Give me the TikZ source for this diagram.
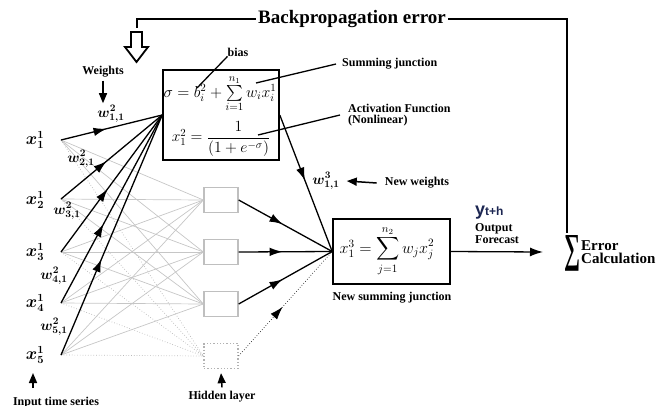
\documentclass[tikz,border=0pt]{standalone}
\usepackage{amsmath,bm}
\usepackage{graphicx}
\usepackage{fontspec}
\setmainfont{Liberation Serif}
\newfontfamily\ysans{Liberation Sans}
\usetikzlibrary{arrows.meta,decorations.markings}
\definecolor{navy}{RGB}{28,38,82}
\tikzset{
  lbl/.style={font=\fontsize{12}{12}\selectfont\bfseries, inner sep=0pt},
  wl/.style={font=\fontsize{14}{14}\selectfont, inner sep=0pt},
  xl/.style={font=\fontsize{16}{16}\selectfont, inner sep=0pt},
  gline/.style={gray!45, line width=0.7pt},
  gdot/.style={gray!55, line width=0.7pt, dotted},
  conn/.style={line width=1.3pt, postaction={decorate},
    decoration={markings, mark=at position #1 with {\arrow[black]{Latex[length=13pt,width=8.5pt]}}}},
  conn/.default=0.45,
  hbox/.style={draw=gray!50, line width=1.3pt, minimum width=34pt, minimum height=25pt, inner sep=0pt},
  bigbox/.style={draw, line width=1.6pt, inner sep=0pt},
  plainline/.style={line width=1.3pt},
  uparrow/.style={line width=1.5pt, -{Triangle[length=10pt,width=8pt]}},
}
\begin{document}
\begin{tikzpicture}[x=1pt,y=-1pt]
\useasboundingbox (0,0) rectangle (664,405);
\clip (0,0) rectangle (664,405);

% input labels and points
\node[xl] (x1) at (35,140) {$\bm{x_1^1}$};
\node[xl] (x2) at (35,200) {$\bm{x_2^1}$};
\node[xl] (x3) at (35,252) {$\bm{x_3^1}$};
\node[xl] (x4) at (35,303) {$\bm{x_4^1}$};
\node[xl] (x5) at (35,355) {$\bm{x_5^1}$};
\coordinate (in1) at (61,140);
\coordinate (in2) at (61,199);
\coordinate (in3) at (61,252);
\coordinate (in4) at (61,303);
\coordinate (in5) at (61,355);

% hidden boxes
\node[bigbox, minimum width=116pt, minimum height=90pt] (box1) at (221,115) {};
\node[hbox] (h1) at (221,200) {};
\node[hbox] (h2) at (221,252) {};
\node[hbox] (h3) at (221,304) {};
\node[hbox, draw=gray!60, dotted] (h4) at (221,356) {};

% output box
\node[bigbox, minimum width=117pt, minimum height=65pt] (out) at (391.5,251.5) {};

% gray connections
\foreach \i in {1,...,5}{
  \foreach \j in {1,2,3}{ \draw[gline] (in\i) -- (h\j.west); }
  \draw[gdot] (in\i) -- (h4.west);
}

% black input connections
\draw[conn=0.45] (in1) -- (box1.west);
\draw[conn=0.45] (in2) -- (box1.west);
\draw[conn=0.46] (in3) -- (box1.west);
\draw[conn=0.42] (in4) -- (box1.west);
\draw[conn=0.40] (in5) -- (box1.west);

% hidden to output
\draw[conn=0.48] (box1.east) -- (out.west);
\draw[conn=0.47] (h1.east) -- (out.west);
\draw[conn=0.47] (h2.east) -- (out.west);
\draw[conn=0.47] (h3.east) -- (out.west);
\draw[conn=0.47, line width=0.7pt, dotted, gray!30!black] (h4.east) -- (out.west);

% formulas
\node[inner sep=0pt, font=\fontsize{14}{14}\selectfont] (f1) at (220,94) {\scalebox{1.1}{$\sigma = b_i^2 + \sum\limits_{i=1}^{n_1} w_i x_i^1$}};
\node[inner sep=0pt, font=\fontsize{14}{14}\selectfont] (f2) at (221,139) {\scalebox{1.08}{$x_1^2 = \dfrac{1}{(1+e^{-\sigma})}$}};
\node[inner sep=0pt, font=\fontsize{14}{14}\selectfont] (f3) at (387,251) {\scalebox{1.12}{$x_1^3 = \displaystyle\sum_{j=1}^{n_2} w_j x_j^2$}};

% weight labels
\node[wl] (w11) at (111,114) {$\bm{w^2_{1,1}}$};
\node[wl] (w21) at (81,159) {$\bm{w^2_{2,1}}$};
\node[wl] (w31) at (67,211) {$\bm{w^2_{3,1}}$};
\node[wl] (w41) at (54,276) {$\bm{w^2_{4,1}}$};
\node[wl] (w51) at (54,327) {$\bm{w^2_{5,1}}$};
\node[wl] (w3) at (326,181) {$\bm{w^3_{1,1}}$};

% Weights label
\node[lbl] (weights) at (103,72) {Weights};
\draw[uparrow] ([yshift=-3pt]weights.south) -- ([yshift=2pt]weights.south |- w11.north);

% New weights
\node[lbl] (nw) at (417,183) {New weights};
\draw[line width=1.5pt, -{Triangle[length=10pt,width=8pt]}] ([xshift=-8pt]nw.west) -- ([xshift=7pt]w3.east);

% bias
\node[lbl] (bias) at (238,52) {bias};
\coordinate (bpt) at (197,88);
\draw[plainline] (bias.south west) -- (bpt);

% Summing junction
\node[lbl, anchor=west] (sj) at (342,64) {Summing junction};
\coordinate (sjpt) at (256,83);
\draw[plainline] ([xshift=-6pt]sj.west) -- (sjpt);

% Activation function
\node[lbl, anchor=west, align=left, font=\fontsize{12}{11}\selectfont\bfseries] (af) at (348,115) {Activation Function\\(Nonlinear)};
\coordinate (afpt) at (258,135);
\draw[plainline] ([xshift=-8pt]af.west) -- (afpt);

% New summing junction
\node[lbl] (nsj) at (392,298) {New summing junction};

% output arrow
\coordinate (otip) at (543,252);
\draw[line width=1.3pt, -{Latex[length=13pt,width=9pt]}] (out.east) -- (otip);
\node[anchor=base west, inner sep=0pt, text=navy] (yth) at (475,215) {\ysans\bfseries\fontsize{18}{18}\selectfont y\fontsize{12}{12}\selectfont t+h};
\node[lbl, anchor=west, align=left] (of) at (475,234) {Output\\Forecast};

% error
\node[inner sep=0pt] (err) at (572,253) {\resizebox{16pt}{27pt}{\bfseries ∑}};
\node[anchor=west, align=left, inner sep=0pt, font=\fontsize{15}{13}\selectfont\bfseries] (errl) at (581,252) {Error\\Calculation};
\coordinate (errtop) at ([xshift=-5pt,yshift=2pt]err.north);

% backpropagation
\node[inner sep=2pt, font=\fontsize{19}{19}\selectfont\bfseries] (bp) at (352,19) {Backpropagation error};
\draw[line width=2.5pt] (bp.east) -| (errtop);
\coordinate (fbend) at (136.5,28);
\draw[line width=2pt] (bp.west) -| (fbend);
\draw[line width=1.8pt, fill=white] (131,32) -- (142,32) -- (142,47) -- (148,47) -- (136.5,62) -- (125,47) -- (131,47) -- cycle;

% bottom labels
\node[lbl] (hl) at (222,397) {Hidden layer};
\draw[uparrow] ([yshift=4pt]hl.north) -- ([yshift=-4pt]h4.south);
\node[lbl] (its) at (56,403) {Input time series};
\coordinate (itsA) at (33,388);
\coordinate (itsB) at (33,373);
\draw[uparrow] (itsA) -- (itsB);
\end{tikzpicture}
\end{document}
